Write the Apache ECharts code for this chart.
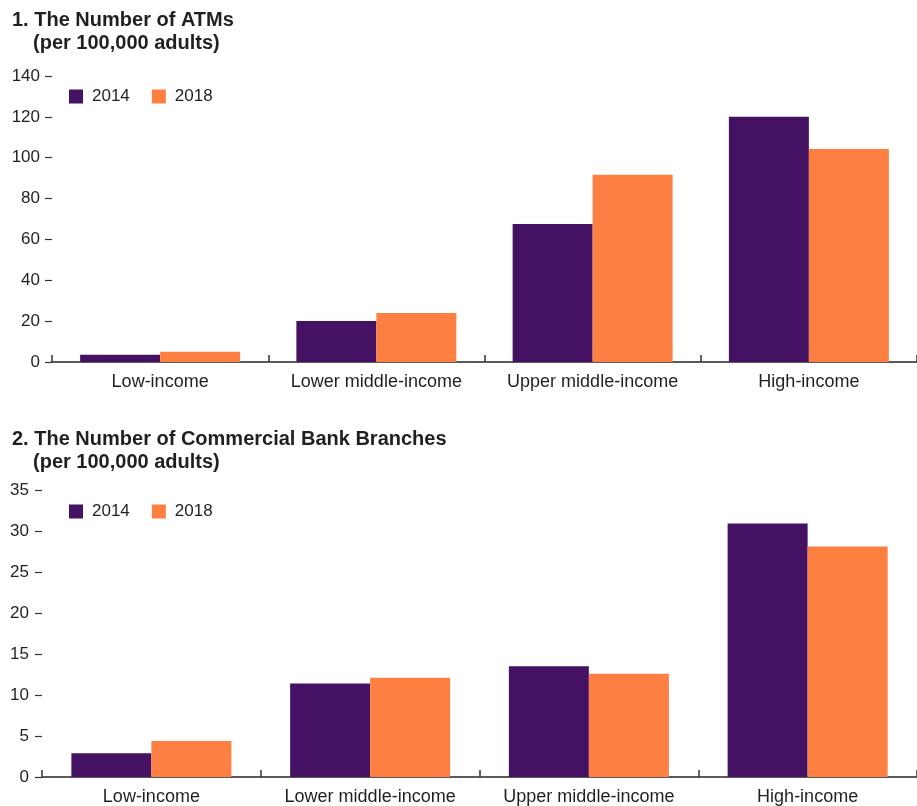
<!DOCTYPE html>
<html>
<head>
<meta charset="utf-8">
<script src="https://cdn.jsdelivr.net/npm/echarts@6/dist/echarts.min.js"></script>
<style>
  html, body { margin: 0; padding: 0; background: #fff; }
  #chart { width: 917px; height: 806px; }
</style>
</head>
<body>
<div id="chart"></div>
<script>
// Income groups shared by both panels
const categories = ['Low-income', 'Lower middle-income', 'Upper middle-income', 'High-income'];
const years = ['2014', '2018'];

// Panel 1: ATMs per 100,000 adults
const atms2014 = [3.6, 20.1, 67.6, 120.0];
const atms2018 = [5.0, 24.0, 91.6, 104.3];
const atmTicks = { min: 0, max: 140, interval: 20 };

// Panel 2: commercial bank branches per 100,000 adults
const branches2014 = [2.9, 11.4, 13.5, 30.9];
const branches2018 = [4.4, 12.1, 12.6, 28.1];
const branchTicks = { min: 0, max: 35, interval: 5 };

const PURPLE = '#451263';
const ORANGE = '#FE7F42';
const FONT = '"Liberation Sans Narrow", "Arial Narrow", "Liberation Sans", Arial, sans-serif';
const TEXT = '#231f20';
const AXIS = '#5a5a5a';

function xAxisFor(gridIndex) {
  return {
    type: 'category',
    gridIndex,
    data: categories,
    axisLine: { show: true, lineStyle: { color: AXIS, width: 2 } },
    axisTick: { show: true, inside: true, interval: 0, length: 7, lineStyle: { color: '#333', width: 1.5 } },
    axisLabel: { interval: 0, color: TEXT, fontFamily: FONT, fontSize: 18, margin: 11 },
    splitLine: { show: false }
  };
}

function yAxisFor(gridIndex, ticks, margin) {
  return {
    type: 'value',
    gridIndex,
    min: ticks.min,
    max: ticks.max,
    interval: ticks.interval,
    axisLine: { show: false },
    axisTick: { show: true, length: 7, lineStyle: { color: '#333', width: 1.2 } },
    axisLabel: { color: TEXT, fontFamily: FONT, fontSize: 17, margin },
    splitLine: { show: false }
  };
}

function barSeries(name, data, idx, color) {
  return {
    name,
    type: 'bar',
    xAxisIndex: idx,
    yAxisIndex: idx,
    data,
    barWidth: 80,
    barGap: '0%',
    itemStyle: { color },
    emphasis: { disabled: true },
    animation: false
  };
}

function legendAt(top) {
  return {
    top,
    left: 69,
    padding: 0,
    orient: 'horizontal',
    data: years,
    icon: 'rect',
    itemWidth: 14,
    itemHeight: 14,
    itemGap: 22,
    textStyle: { color: TEXT, fontFamily: FONT, fontSize: 17, padding: [0, 0, 0, 4] }
  };
}

const titleStyle = { color: TEXT, fontFamily: FONT, fontSize: 20, fontWeight: 'bold' };

const chart = echarts.init(document.getElementById('chart'), null, { renderer: 'canvas' });
chart.setOption({
  animation: false,
  backgroundColor: '#ffffff',
  title: [
    { text: '1. The Number of ATMs', left: 12, top: 10, padding: 0, textStyle: titleStyle },
    { text: '(per 100,000 adults)', left: 33, top: 33, padding: 0, textStyle: titleStyle },
    { text: '2. The Number of Commercial Bank Branches', left: 12, top: 429, padding: 0, textStyle: titleStyle },
    { text: '(per 100,000 adults)', left: 33, top: 452, padding: 0, textStyle: titleStyle }
  ],
  legend: [legendAt(88), legendAt(503)],
  grid: [
    { left: 52, top: 76, width: 868, height: 286, containLabel: false },
    { left: 42, top: 490, width: 880, height: 287, containLabel: false }
  ],
  xAxis: [xAxisFor(0), xAxisFor(1)],
  yAxis: [yAxisFor(0, atmTicks, 12), yAxisFor(1, branchTicks, 13)],
  series: [
    barSeries(years[0], atms2014, 0, PURPLE),
    barSeries(years[1], atms2018, 0, ORANGE),
    barSeries(years[0], branches2014, 1, PURPLE),
    barSeries(years[1], branches2018, 1, ORANGE)
  ]
});
</script>
</body>
</html>
